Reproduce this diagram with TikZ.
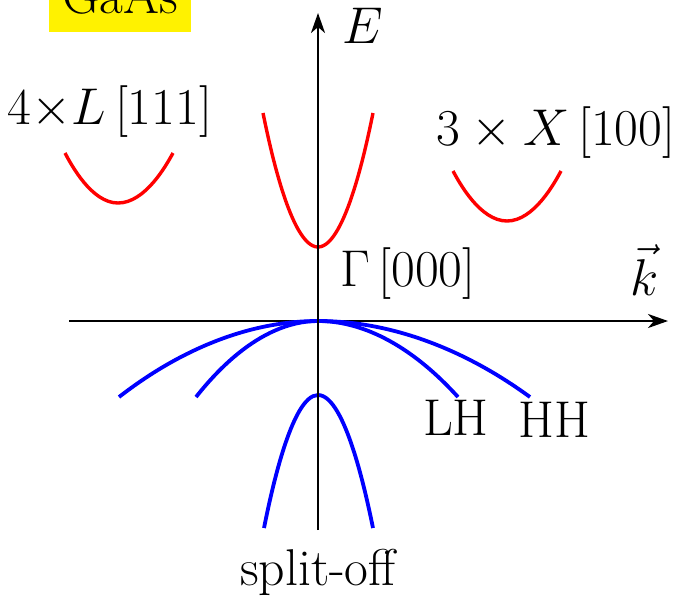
\documentclass[tikz,border=0pt]{standalone}
\usetikzlibrary{arrows.meta}
\begin{document}
\begin{tikzpicture}[x=0.5pt,y=-0.5pt,
  lbl/.style={font=\Huge,scale=1.04,inner sep=0pt,anchor=base},
  axis/.style={line width=1.3pt,black},
  arr/.style={-{Stealth[length=10pt,width=7pt,inset=3pt]}},
  cb/.style={line width=1.9pt,blue},
  cr/.style={line width=1.7pt,red}]
\useasboundingbox (0,0) rectangle (673,595);
% axes coordinates
\coordinate (xl) at (69,321);
\coordinate (xr) at (668,321);
\coordinate (yb) at (318,530);
\coordinate (yt) at (318,13);
% material box
\node[lbl,fill=yellow,inner xsep=5.5pt,inner ysep=5.8pt,text depth=3.4pt,minimum width=68pt] (gaas) at (120,13) {GaAs};
% horizontal axis
\draw[axis,arr] (xl) -- (xr);
% valence bands
\coordinate (vtop) at (318,321);
\coordinate (hhl) at (119,397);
\coordinate (hhr) at (530,397);
\coordinate (lhl) at (196,397);
\coordinate (lhr) at (458,397);
\coordinate (sotop) at (318,395);
\coordinate (sol) at (264,528);
\coordinate (sor) at (373,528);
\draw[cb] (hhl) parabola bend (vtop) (hhr);
\draw[cb] (lhl) parabola bend (vtop) (lhr);
\draw[cb] (sol) parabola bend (sotop) (sor);
% conduction bands
\coordinate (gl) at (263,113);
\coordinate (gmin) at (318,247);
\coordinate (gr) at (373,113);
\coordinate (ll) at (65,153);
\coordinate (lmin) at (118,203);
\coordinate (lr) at (173,153);
\coordinate (xvl) at (453,171);
\coordinate (xmin) at (507,221);
\coordinate (xvr) at (561,171);
\draw[cr] (gl) parabola bend (gmin) (gr);
\draw[cr] (ll) parabola bend (lmin) (lr);
\draw[cr] (xvl) parabola bend (xmin) (xvr);
% vertical axis
\draw[axis,arr] (yb) -- (yt);
% labels
\node[lbl] (elab) at (363,43) {$E$};
\node[lbl] (klab) at (645,295) {$\vec{k}$};
\node[lbl] (llab) at (110,124) {$4{\times}L\,[111]$};
\node[lbl] (xlab) at (556,145) {$3\times X\,[100]$};
\node[lbl] (glab) at (408,286) {$\Gamma\,[000]$};
\node[lbl] (lhlab) at (456,435) {LH};
\node[lbl] (hhlab) at (554,437) {HH};
\node[lbl] (solab) at (318,585) {split-off};
\end{tikzpicture}
\end{document}
